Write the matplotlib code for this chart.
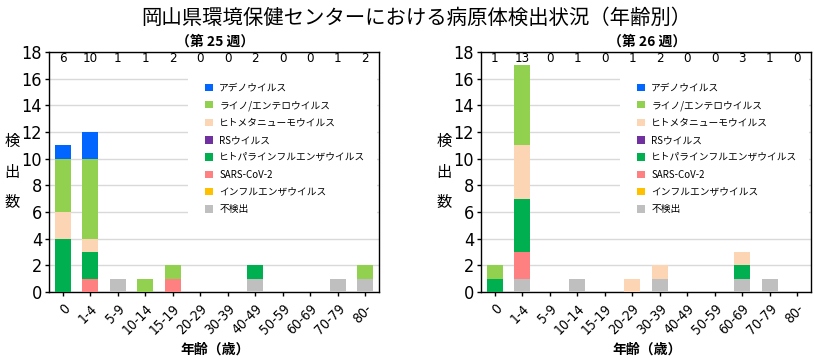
import matplotlib
matplotlib.use("Agg")
import matplotlib.pyplot as plt
from matplotlib import font_manager as fm
from matplotlib.patches import Rectangle
import numpy as np

def narrow_font():
    prefs = ["LiberationSansNarrow-Regular", "DejaVuSansCondensed.ttf",
             "NotoSans-Condensed.ttf", "Roboto_Condensed", "RobotoCondensed-Regular",
             "NotoSans-CondensedMedium", "Condensed", "Narrow"]
    files = [f.fname for f in fm.fontManager.ttflist]
    for p in prefs:
        for f in files:
            name = f.split("/")[-1]
            if p in name and "Bold" not in name and "Italic" not in name and "Oblique" not in name:
                return fm.FontProperties(fname=f)
    return fm.FontProperties(family="DejaVu Sans")

JP = "Noto Sans CJK JP"
NUMFP = narrow_font()

plt.rcParams['font.family'] = [JP, 'DejaVu Sans']

title = "岡山県環境保健センターにおける病原体検出状況（年齢別）"
weeks = ["（第 25 週）", "（第 26 週）"]
ages = ["0", "1-4", "5-9", "10-14", "15-19", "20-29", "30-39", "40-49",
        "50-59", "60-69", "70-79", "80-"]

# legend order (top to bottom); stacking is bottom-up in reverse order
series = ["アデノウイルス", "ライノ/エンテロウイルス", "ヒトメタニューモウイルス", "RSウイルス",
          "ヒトパラインフルエンザウイルス", "SARS-CoV-2", "インフルエンザウイルス", "不検出"]
colors = ["#0066FF", "#92D050", "#FCD5B4", "#7030A0",
          "#00B050", "#FF8080", "#FFC000", "#BFBFBF"]

# week 25
w25_adeno  = [1, 2, 0, 0, 0, 0, 0, 0, 0, 0, 0, 0]
w25_rhino  = [4, 6, 0, 1, 1, 0, 0, 0, 0, 0, 0, 1]
w25_hmpv   = [2, 1, 0, 0, 0, 0, 0, 0, 0, 0, 0, 0]
w25_rs     = [0, 0, 0, 0, 0, 0, 0, 0, 0, 0, 0, 0]
w25_para   = [4, 2, 0, 0, 0, 0, 0, 1, 0, 0, 0, 0]
w25_sars   = [0, 1, 0, 0, 1, 0, 0, 0, 0, 0, 0, 0]
w25_flu    = [0, 0, 0, 0, 0, 0, 0, 0, 0, 0, 0, 0]
w25_nd     = [0, 0, 1, 0, 0, 0, 0, 1, 0, 0, 1, 1]
w25_counts = [6, 10, 1, 1, 2, 0, 0, 2, 0, 0, 1, 2]

# week 26
w26_adeno  = [0, 0, 0, 0, 0, 0, 0, 0, 0, 0, 0, 0]
w26_rhino  = [1, 6, 0, 0, 0, 0, 0, 0, 0, 0, 0, 0]
w26_hmpv   = [0, 4, 0, 0, 0, 1, 1, 0, 0, 1, 0, 0]
w26_rs     = [0, 0, 0, 0, 0, 0, 0, 0, 0, 0, 0, 0]
w26_para   = [1, 4, 0, 0, 0, 0, 0, 0, 0, 1, 0, 0]
w26_sars   = [0, 2, 0, 0, 0, 0, 0, 0, 0, 0, 0, 0]
w26_flu    = [0, 0, 0, 0, 0, 0, 0, 0, 0, 0, 0, 0]
w26_nd     = [0, 1, 0, 1, 0, 0, 1, 0, 0, 1, 1, 0]
w26_counts = [1, 13, 0, 1, 0, 1, 2, 0, 0, 3, 1, 0]

data = [
    [w25_adeno, w25_rhino, w25_hmpv, w25_rs, w25_para, w25_sars, w25_flu, w25_nd],
    [w26_adeno, w26_rhino, w26_hmpv, w26_rs, w26_para, w26_sars, w26_flu, w26_nd],
]
counts = [w25_counts, w26_counts]

fig = plt.figure(figsize=(8.18, 3.59), dpi=100)
W, H = 818, 359
fig.text(416 / W, 1 - 18 / H, title, ha="center", va="center", fontsize=14.7,
         family=[JP])

def numfp(size):
    fp = NUMFP.copy()
    fp.set_size(size)
    return fp

lefts = [49, 481]
for k in range(2):
    ax = fig.add_axes([lefts[k] / W, (H - 292) / H, 330 / W, 240 / H])
    x = np.arange(len(ages))
    bottom = np.zeros(len(ages))
    handles = {}
    for i in reversed(range(len(series))):
        vals = np.array(data[k][i], dtype=float)
        b = ax.bar(x, vals, width=0.58, bottom=bottom, color=colors[i],
                   label=series[i], zorder=3, linewidth=0)
        handles[i] = b
        bottom += vals
    ax.set_xlim(-0.5, len(ages) - 0.5)
    ax.set_ylim(0, 18)
    ax.set_yticks(np.arange(0, 19, 2))
    ax.set_xticks(x)
    ax.set_xticklabels(ages, rotation=45, ha="right", rotation_mode="anchor",
                       fontproperties=numfp(10))
    for lab in ax.get_yticklabels():
        lab.set_fontproperties(numfp(13))
    ax.tick_params(axis="both", length=3, width=1, color="black", pad=2)
    ax.tick_params(axis="x", pad=4)
    ax.grid(axis="y", color="#D9D9D9", linewidth=1, zorder=0)
    ax.set_axisbelow(True)
    for s in ax.spines.values():
        s.set_color("black")
        s.set_linewidth(1)
    for i, c in enumerate(counts[k]):
        ax.text(x[i], 0.971, str(c), transform=ax.get_xaxis_transform(),
                ha="center", va="center", fontproperties=numfp(9.5))
    ax.add_patch(Rectangle((0.421, 0.30), 0.573, 0.617, transform=ax.transAxes,
                           facecolor="white", edgecolor="none", zorder=1))
    leg = ax.legend([handles[i] for i in range(len(series))], series,
                    loc="upper left", bbox_to_anchor=(0.462, 0.888),
                    fontsize=7, frameon=False,
                    handlelength=0.82, handleheight=0.82, handletextpad=0.6,
                    labelspacing=0.75, borderpad=0.4, borderaxespad=0)
    leg.set_zorder(5)
    cx = lefts[k] + 166
    fig.text(cx / W, 1 - 42 / H, weeks[k], ha="center", va="center",
             fontsize=10, weight="bold", family=[JP])
    fig.text(cx / W, 1 - 350 / H, "年齢（歳）", ha="center", va="center",
             fontsize=10, weight="bold", family=[JP])
    ylx = lefts[k] - 37
    for j, ch in enumerate("検出数"):
        fig.text(ylx / W, 1 - (141 + j * 31) / H, ch, ha="center", va="center",
                 fontsize=11, family=[JP])

fig.savefig("out.png", dpi=100)
